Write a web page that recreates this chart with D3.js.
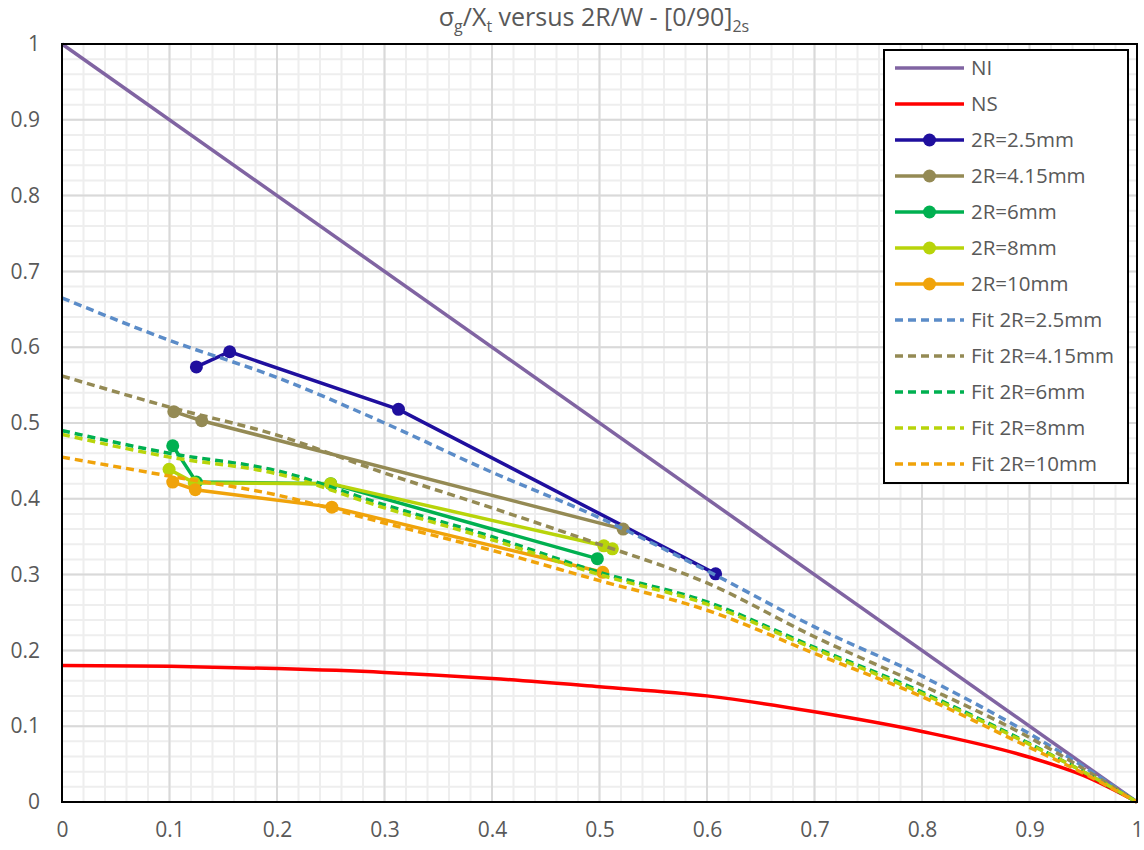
<!DOCTYPE html>
<html lang="en">
<head>
<meta charset="UTF-8">
<title>sigma_g / Xt versus 2R/W</title>
<script src="https://d3js.org/d3.v7.min.js"></script>
<style>
  body { margin: 0; background: #fff; }
  text { font-family: 'Open Sans', sans-serif; fill: #595959; }
</style>
</head>
<body>
<div id="chart"></div>
<script>
// tick values
const xTicks = [0, 0.1, 0.2, 0.3, 0.4, 0.5, 0.6, 0.7, 0.8, 0.9, 1];
const yTicks = [0, 0.1, 0.2, 0.3, 0.4, 0.5, 0.6, 0.7, 0.8, 0.9, 1];

// NI (straight line) and NS curve
const niX = [0, 1];
const niY = [1, 0];
const nsX = [0, 0.1, 0.2, 0.3, 0.4, 0.5, 0.6, 0.7, 0.8, 0.9, 0.95, 1];
const nsY = [0.18, 0.179, 0.176, 0.171, 0.163, 0.152, 0.14, 0.119, 0.093, 0.059, 0.035, 0];

// test points
const d25X = [0.125, 0.156, 0.313, 0.608];
const d25Y = [0.574, 0.594, 0.518, 0.301];
const d415X = [0.104, 0.13, 0.522];
const d415Y = [0.515, 0.503, 0.36];
const d6X = [0.103, 0.125, 0.25, 0.498];
const d6Y = [0.47, 0.422, 0.42, 0.321];
const d8X = [0.0996, 0.123, 0.25, 0.504, 0.512];
const d8Y = [0.439, 0.421, 0.42, 0.338, 0.334];
const d10X = [0.103, 0.124, 0.251, 0.503];
const d10Y = [0.422, 0.412, 0.389, 0.303];

// fit curves, read at these x positions
const fitX = [0, 0.1, 0.2, 0.3, 0.4, 0.5, 0.6, 0.7, 0.8, 0.9, 0.95, 1];
const fit25Y = [0.665, 0.609, 0.56, 0.5, 0.435, 0.375, 0.305, 0.231, 0.166, 0.09, 0.047, 0];
const fit415Y = [0.562, 0.521, 0.484, 0.434, 0.388, 0.34, 0.289, 0.218, 0.154, 0.085, 0.044, 0];
const fit6Y = [0.49, 0.46, 0.437, 0.392, 0.35, 0.303, 0.264, 0.204, 0.145, 0.077, 0.04, 0];
const fit8Y = [0.485, 0.455, 0.433, 0.388, 0.346, 0.3, 0.261, 0.202, 0.143, 0.076, 0.04, 0];
const fit10Y = [0.455, 0.43, 0.405, 0.368, 0.332, 0.292, 0.253, 0.196, 0.139, 0.072, 0.038, 0];

const zip = (xs, ys) => xs.map((x, i) => ({x: x, y: ys[i]}));

const series = [
  {name: 'NI', pts: zip(niX, niY), color: '#8064A2', dash: null, marker: false, curve: d3.curveLinear},
  {name: 'NS', pts: zip(nsX, nsY), color: '#FF0000', dash: null, marker: false, curve: d3.curveMonotoneX},
  {name: '2R=2.5mm', pts: zip(d25X, d25Y), color: '#1F0F9E', dash: null, marker: true, curve: d3.curveLinear},
  {name: '2R=4.15mm', pts: zip(d415X, d415Y), color: '#948A54', dash: null, marker: true, curve: d3.curveLinear},
  {name: '2R=6mm', pts: zip(d6X, d6Y), color: '#00B050', dash: null, marker: true, curve: d3.curveLinear},
  {name: '2R=8mm', pts: zip(d8X, d8Y), color: '#B8D40A', dash: null, marker: true, curve: d3.curveLinear},
  {name: '2R=10mm', pts: zip(d10X, d10Y), color: '#F0A30A', dash: null, marker: true, curve: d3.curveLinear},
  {name: 'Fit 2R=2.5mm', pts: zip(fitX, fit25Y), color: '#5B8CC8', dash: '8,5', marker: false, curve: d3.curveMonotoneX},
  {name: 'Fit 2R=4.15mm', pts: zip(fitX, fit415Y), color: '#948A54', dash: '8,5', marker: false, curve: d3.curveMonotoneX},
  {name: 'Fit 2R=6mm', pts: zip(fitX, fit6Y), color: '#00B050', dash: '8,5', marker: false, curve: d3.curveMonotoneX},
  {name: 'Fit 2R=8mm', pts: zip(fitX, fit8Y), color: '#B8D40A', dash: '8,5', marker: false, curve: d3.curveMonotoneX},
  {name: 'Fit 2R=10mm', pts: zip(fitX, fit10Y), color: '#F0A30A', dash: '8,5', marker: false, curve: d3.curveMonotoneX}
];

const width = 1144, height = 850;
const svg = d3.select('#chart').append('svg').attr('width', width).attr('height', height);

const x = d3.scaleLinear().domain([0, 1]).range([62, 1137]);
const y = d3.scaleLinear().domain([0, 1]).range([802, 44]);

// grid: minor every 0.02, major every 0.1
const minor = d3.range(0, 51).map(i => i / 50);
const grid = svg.append('g');
grid.selectAll('line.mx').data(minor).enter().append('line')
  .attr('x1', d => x(d)).attr('x2', d => x(d)).attr('y1', y(0)).attr('y2', y(1))
  .attr('stroke', '#EEEEEE').attr('stroke-width', 2);
grid.selectAll('line.my').data(minor).enter().append('line')
  .attr('y1', d => y(d)).attr('y2', d => y(d)).attr('x1', x(0)).attr('x2', x(1))
  .attr('stroke', '#EEEEEE').attr('stroke-width', 2);
grid.selectAll('line.Mx').data(xTicks).enter().append('line')
  .attr('x1', d => x(d)).attr('x2', d => x(d)).attr('y1', y(0)).attr('y2', y(1))
  .attr('stroke', '#D9D9D9').attr('stroke-width', 2);
grid.selectAll('line.My').data(yTicks).enter().append('line')
  .attr('y1', d => y(d)).attr('y2', d => y(d)).attr('x1', x(0)).attr('x2', x(1))
  .attr('stroke', '#D9D9D9').attr('stroke-width', 2);

// series
const plot = svg.append('g');
series.forEach(s => {
  const line = d3.line().x(d => x(d.x)).y(d => y(d.y)).curve(s.curve);
  plot.append('path').datum(s.pts)
    .attr('d', line)
    .attr('fill', 'none')
    .attr('stroke', s.color)
    .attr('stroke-width', 3.5)
    .attr('stroke-dasharray', s.dash);
  if (s.marker) {
    plot.selectAll(null).data(s.pts).enter().append('circle')
      .attr('cx', d => x(d.x)).attr('cy', d => y(d.y)).attr('r', 6.5)
      .attr('fill', s.color);
  }
});

// frame + axes
svg.append('rect').attr('x', x(0)).attr('y', y(1)).attr('width', x(1) - x(0)).attr('height', y(0) - y(1))
  .attr('fill', 'none').attr('stroke', '#000').attr('stroke-width', 2);

const xAxis = svg.append('g').attr('transform', `translate(0,${y(0)})`)
  .call(d3.axisBottom(x).tickValues(xTicks).tickSize(0).tickPadding(20).tickFormat(d => String(d)));
const yAxis = svg.append('g').attr('transform', `translate(${x(0)},0)`)
  .call(d3.axisLeft(y).tickValues(yTicks).tickSize(0).tickPadding(22).tickFormat(d => String(d)));
[xAxis, yAxis].forEach(a => {
  a.select('.domain').remove();
  a.selectAll('text').style('font-size', '21px').attr('fill', '#595959');
});

// title
const title = svg.append('text').attr('x', 594).attr('y', 26).attr('text-anchor', 'middle')
  .style('font-size', '25px');
title.append('tspan').text('σ');
title.append('tspan').text('g').attr('dy', 6).style('font-size', '16px');
title.append('tspan').text('/X').attr('dy', -6);
title.append('tspan').text('t').attr('dy', 6).style('font-size', '16px');
title.append('tspan').text(' versus 2R/W - [0/90]').attr('dy', -6);
title.append('tspan').text('2s').attr('dy', 6).style('font-size', '16px');

// legend
const lg = svg.append('g');
lg.append('rect').attr('x', 884).attr('y', 50).attr('width', 244).attr('height', 433)
  .attr('fill', '#fff').attr('stroke', '#000').attr('stroke-width', 2);
const rows = lg.selectAll('g.row').data(series).enter().append('g')
  .attr('transform', (d, i) => `translate(0,${68 + i * 36})`);
rows.append('line').attr('x1', 895).attr('x2', 964).attr('y1', 0).attr('y2', 0)
  .attr('stroke', d => d.color).attr('stroke-width', 3.5)
  .attr('stroke-dasharray', d => d.dash);
rows.filter(d => d.marker).append('circle').attr('cx', 929.5).attr('cy', 0).attr('r', 6.5)
  .attr('fill', d => d.color);
rows.append('text').attr('x', 971).attr('y', 0).attr('dy', '0.35em')
  .style('font-size', '20.5px').text(d => d.name);
</script>
</body>
</html>
